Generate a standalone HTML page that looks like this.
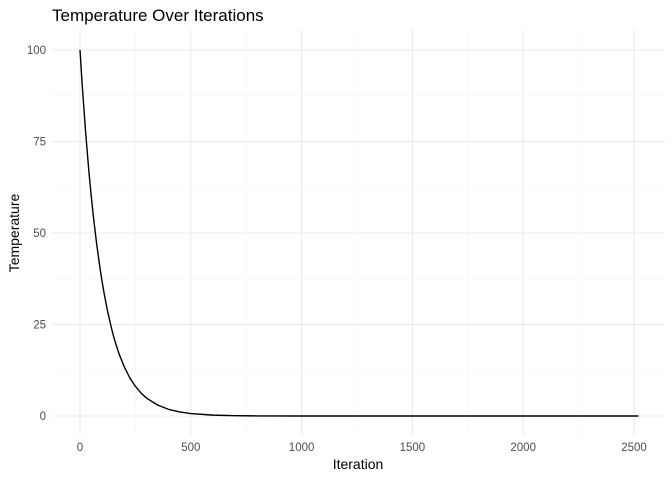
<!DOCTYPE html>
<html><head><meta charset="utf-8"><style>
body{margin:0;background:#fff;}
svg{display:block;font-family:"Liberation Sans",sans-serif;}
</style></head><body>
<svg id="chart" width="672" height="480">
<text x="52" y="21" font-size="17" fill="#000">Temperature Over Iterations</text>
<g id="grid"></g><g id="axes"></g><g id="series"></g>
<text x="358" y="469" font-size="14" text-anchor="middle" fill="#000">Iteration</text>
<text transform="translate(19,233) rotate(-90)" font-size="14" text-anchor="middle" fill="#000">Temperature</text>
</svg>
<script>
const iterations=[0,10,25,40,50,60,75,90,100,110,125,140,150,160,175,180,200,225,250,275,300,350,400,450,500,600,700,800,1000,1500,2000,2520];
const temperature=[100,90.4,77.8,66.9,60.5,54.7,47.1,40.5,36.6,33.1,28.5,24.5,22.1,20.0,17.2,16.4,13.4,10.4,8.1,6.3,4.9,3.0,1.8,1.1,0.66,0.24,0.09,0.03,0,0,0,0];
const xTicks=[0,500,1000,1500,2000,2500];
const yTicks=[0,25,50,75,100];
const ns="http://www.w3.org/2000/svg";
const x=v=>80+v*(634-80)/2500;
const y=v=>416-v*(416-50)/100;
function mk(t,a,p){const e=document.createElementNS(ns,t);for(const k in a)e.setAttribute(k,a[k]);p.appendChild(e);return e;}
const grid=document.getElementById('grid'),axes=document.getElementById('axes'),ser=document.getElementById('series');
for(let i=0;i<xTicks.length;i++){
 const v=xTicks[i];
 const l=mk('line',{x1:x(v),x2:x(v),y1:30,y2:435,stroke:'#ebebeb','stroke-width':1.1},grid);
 
 
 if(i<xTicks.length-1){const m=mk('line',{x1:x(v+250),x2:x(v+250),y1:30,y2:435,stroke:'#f3f3f3','stroke-width':0.6},grid);
 
 }
 const t=mk('text',{x:x(v),y:451,'font-size':11.5,'text-anchor':'middle',fill:'#4d4d4d'},axes);t.textContent=v;
 
 
}
for(let i=0;i<yTicks.length;i++){
 const v=yTicks[i];
 const l=mk('line',{x1:52,x2:665,y1:y(v),y2:y(v),stroke:'#ebebeb','stroke-width':1.1},grid);
 
 
 if(i<yTicks.length-1){const m=mk('line',{x1:52,x2:665,y1:y(v+12.5),y2:y(v+12.5),stroke:'#f3f3f3','stroke-width':0.6},grid);
 
 }
 const t=mk('text',{x:46,y:y(v)+4,'font-size':11.5,'text-anchor':'end',fill:'#4d4d4d'},axes);t.textContent=v;
 
 
}
let d='';
for(let i=0;i<iterations.length;i++){d+=(i?'L':'M')+x(iterations[i]).toFixed(2)+','+y(temperature[i]).toFixed(2);}
const p=mk('path',{d:d,fill:'none',stroke:'#000','stroke-width':1.4,'stroke-linejoin':'round'},ser);


</script>
</body></html>
